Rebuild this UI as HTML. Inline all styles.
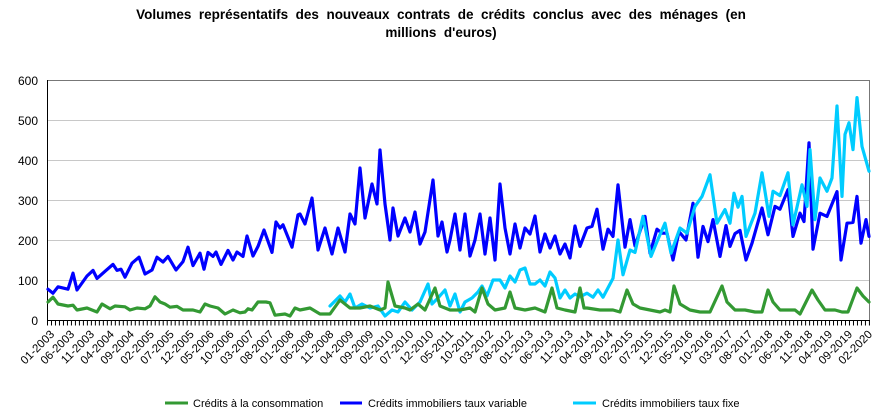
<!DOCTYPE html>
<html><head><meta charset="utf-8"><style>
body{margin:0;background:#fff;}
svg{display:block;font-family:"Liberation Sans",Arial,sans-serif;}
.t{white-space:pre;}
</style></head><body>
<svg id="s" width="878" height="417" viewBox="0 0 878 417">
<text class="t" x="441" y="19" text-anchor="middle" font-size="13.5" font-weight="bold">Volumes  représentatifs  des  nouveaux  contrats  de  crédits  conclus  avec  des  ménages  (en</text>
<text class="t" x="441" y="37" text-anchor="middle" font-size="13.5" font-weight="bold">millions  d'euros)</text>
<g stroke="#c8c8c8" stroke-width="1">
<line x1="47" x2="870" y1="120.5" y2="120.5"/><line x1="47" x2="870" y1="160.5" y2="160.5"/>
<line x1="47" x2="870" y1="200.5" y2="200.5"/><line x1="47" x2="870" y1="240.5" y2="240.5"/>
<line x1="47" x2="870" y1="280.5" y2="280.5"/>
</g>
<rect x="47.5" y="80.5" width="822" height="240" fill="none" stroke="#777" stroke-width="1"/>
<line x1="47.5" y1="80" x2="47.5" y2="321" stroke="#000"/>
<line x1="47" y1="320.5" x2="870" y2="320.5" stroke="#000"/>
<line x1="47" y1="323" x2="870" y2="323" stroke="#000" stroke-width="5" stroke-dasharray="1,2.99"/>
<g font-size="12" text-anchor="end" fill="#000">
<text x="38" y="85">600</text><text x="38" y="125">500</text><text x="38" y="165">400</text>
<text x="38" y="205">300</text><text x="38" y="245">200</text><text x="38" y="285">100</text><text x="38" y="325">0</text>
</g>
<g id="xl" font-size="11.5" text-anchor="end">
<text>01-2003</text><text>06-2003</text><text>11-2003</text><text>04-2004</text><text>09-2004</text><text>02-2005</text><text>07-2005</text><text>12-2005</text><text>05-2006</text><text>10-2006</text><text>03-2007</text><text>08-2007</text><text>01-2008</text><text>06-2008</text><text>11-2008</text><text>04-2009</text><text>09-2009</text><text>02-2010</text><text>07-2010</text><text>12-2010</text><text>05-2011</text><text>10-2011</text><text>03-2012</text><text>08-2012</text><text>01-2013</text><text>06-2013</text><text>11-2013</text><text>04-2014</text><text>09-2014</text><text>02-2015</text><text>07-2015</text><text>12-2015</text><text>05-2016</text><text>10-2016</text><text>03-2017</text><text>08-2017</text><text>01-2018</text><text>06-2018</text><text>11-2018</text><text>04-2019</text><text>09-2019</text><text>02-2020</text>
</g>
<g fill="none" stroke-width="3.2" stroke-linejoin="round" stroke-linecap="round">
<polyline id="pb" stroke="#0000ff"/>
<polyline id="pc" stroke="#00ccff"/>
<polyline id="pg" stroke="#339933"/>
</g>
<g font-size="11">
<line x1="165" y1="403" x2="188" y2="403" stroke="#339933" stroke-width="3"/><text x="193" y="407">Crédits à la consommation</text>
<line x1="340" y1="403" x2="362" y2="403" stroke="#0000ff" stroke-width="3"/><text x="368" y="407">Crédits immobiliers taux variable</text>
<line x1="573" y1="403" x2="596" y2="403" stroke="#00ccff" stroke-width="3"/><text x="602" y="407">Crédits immobiliers taux fixe</text>
</g>
</svg>
<script>
var B=[48,77,53,67,58,83,68,77,73,117,77,75,87,110,93,124,97,104,106,124,113,139,117,124,121,127,125,107,132,142,139,157,145,115,152,125,157,157,163,145,168,159,176,125,183,146,188,182,193,136,200,167,204,127,208,169,213,159,216,170,221,139,228,174,233,150,237,170,243,159,247,210,253,160,258,184,264,225,272,169,276,245,280,230,283,238,292,182,298,263,300,265,305,240,312,305,318,175,325,230,332,165,338,230,345,170,350,265,355,240,360,380,365,255,372,340,377,290,380,425,385,290,390,200,393,280,398,210,405,255,410,220,415,270,420,190,425,220,433,350,438,210,442,245,447,170,450,200,455,265,460,175,465,265,470,160,475,200,480,265,485,165,490,255,495,150,500,340,505,230,510,165,515,240,520,180,525,230,530,215,535,260,540,170,545,215,550,180,555,210,560,165,565,190,570,155,575,235,580,184,587,230,592,234,597,277,603,177,608,227,613,209,618,338,625,182,630,251,635,185,645,259,650,167,657,227,662,217,667,217,673,150,679,221,686,200,693,292,698,157,703,234,708,196,713,251,720,159,726,236,730,184,735,216,740,224,746,150,752,192,762,280,768,213,775,284,780,277,788,326,793,209,800,267,804,246,809,443,813,177,820,267,827,259,837,321,841,150,847,242,853,244,857,309,861,192,866,251,869,209];
var C=[330,35,340,60,345,45,350,65,355,30,362,40,370,30,378,35,385,10,392,25,398,20,405,45,412,25,420,45,428,90,432,40,438,55,445,75,450,35,455,65,460,20,465,45,472,55,478,70,482,85,487,60,493,100,500,100,505,80,510,110,515,95,520,125,525,130,530,90,535,90,540,100,545,85,550,120,555,105,560,55,565,75,570,55,575,65,580,58,587,67,593,57,598,75,603,57,613,104,618,200,623,113,630,175,635,169,643,259,651,159,657,196,665,242,671,167,680,230,687,217,695,284,702,309,710,363,717,242,725,276,730,242,734,317,738,282,742,309,746,209,755,267,762,368,769,259,773,322,780,311,788,368,793,238,802,338,807,284,810,426,815,251,820,355,827,322,832,355,837,535,842,309,845,464,849,493,853,426,857,556,862,434,869,372];
var G=[48,45,53,57,58,40,68,35,73,37,77,25,87,30,97,20,102,40,110,28,115,35,125,33,130,25,137,30,145,28,150,35,155,58,160,45,165,40,170,32,177,34,183,25,193,25,200,20,205,40,210,35,218,30,225,15,233,25,240,18,245,20,248,28,252,25,258,45,266,45,270,43,275,12,285,15,290,10,295,30,300,25,310,30,320,15,330,15,340,50,350,30,360,30,370,35,380,25,385,30,388,95,395,35,405,30,410,25,418,40,425,25,435,80,440,35,450,25,460,25,470,30,475,20,482,80,488,40,495,25,505,30,510,70,515,30,525,25,535,30,545,20,552,80,557,30,565,25,575,20,580,80,584,30,587,30,600,25,613,25,620,20,627,75,633,40,640,30,650,25,660,20,665,25,670,20,674,85,680,40,690,25,700,20,710,20,722,85,727,45,735,25,745,25,755,20,762,20,768,75,773,45,780,25,795,25,800,15,812,75,818,50,825,25,835,25,842,20,848,20,857,80,863,60,869,45];
function pts(a){var s=[];for(var i=0;i<a.length;i+=2)s.push(a[i]+","+(320-0.4*a[i+1]).toFixed(1));return s.join(" ");}
document.getElementById("pb").setAttribute("points",pts(B));
document.getElementById("pc").setAttribute("points",pts(C));
document.getElementById("pg").setAttribute("points",pts(G));
var t=document.getElementById("xl").children;
for(var k=0;k<t.length;k++){var x=47+k*19.95+8;t[k].setAttribute("transform","translate("+x.toFixed(1)+",335) rotate(-45)");}
</script>
</body></html>
